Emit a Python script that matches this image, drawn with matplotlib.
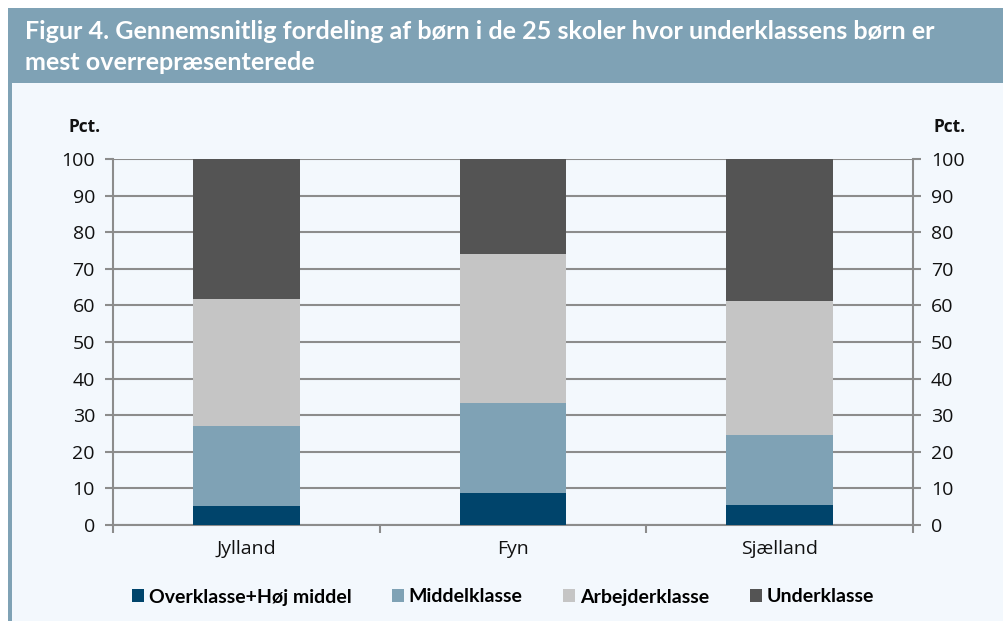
import matplotlib.pyplot as plt
from matplotlib.patches import Rectangle, Patch

# data (pct.)
regions = ['Jylland', 'Fyn', 'Sjælland']
overklasse = [5.3, 8.7, 5.5]
middelklasse = [21.7, 24.5, 19.1]
arbejderklasse = [34.7, 40.8, 36.5]
underklasse = [38.3, 26.0, 38.9]

series_names = ['Overklasse+Høj middel', 'Middelklasse', 'Arbejderklasse', 'Underklasse']
colors = ['#00446b', '#7fa2b5', '#c5c5c5', '#545454']

title = 'Figur 4. Gennemsnitlig fordeling af børn i de 25 skoler hvor underklassens børn er\nmest overrepræsenterede'

W, H = 1004, 621
fig = plt.figure(figsize=(W / 100, H / 100), dpi=100)
fig.patch.set_facecolor('white')

# =========================
# FRAME / TITLE BAND
# =========================

fig.patches.append(Rectangle((12 / W, 0), 1 - 12 / W, 1 - 83 / H,
                             transform=fig.transFigure, facecolor='#f3f8fd',
                             edgecolor='none', zorder=-5))
fig.patches.append(Rectangle((8 / W, 0), 4 / W, 1 - 83 / H,
                             transform=fig.transFigure, facecolor='#7fa2b5',
                             edgecolor='none', zorder=-5))
fig.patches.append(Rectangle((8 / W, 1 - 83 / H), 1 - 8 / W, 75 / H,
                             transform=fig.transFigure, facecolor='#7fa2b5',
                             edgecolor='none', zorder=-5))

fig.text(25 / W, 1 - 47 / H, title, color='white', fontsize=18.1,
         fontweight='bold', family='Lato', va='center', ha='left',
         linespacing=1.45)

# =========================
# AXES
# =========================

left, right, top, bottom = 113, 913, 159, 525
ax = fig.add_axes([left / W, 1 - bottom / H, (right - left) / W, (bottom - top) / H])
ax.set_facecolor('none')

x = list(range(len(regions)))
base = [0] * len(regions)
for vals, name, col in zip([overklasse, middelklasse, arbejderklasse, underklasse],
                           series_names, colors):
    ax.bar(x, vals, bottom=base, width=0.4, color=col, label=name, zorder=3)
    base = [b + v for b, v in zip(base, vals)]

ax.set_xlim(-0.5, 2.5)
ax.set_ylim(0, 100)
ax.set_yticks(range(0, 101, 10))
ax.set_xticks(x)
ax.set_xticklabels(regions)
ax.set_xticks([-0.5, 0.5, 1.5, 2.5], minor=True)

grid_col = '#8c8c8c'
ax.yaxis.grid(True, color=grid_col, linewidth=1.5, zorder=1)
ax.set_axisbelow(True)
ax.spines['top'].set_visible(False)
for side in ['left', 'right', 'bottom']:
    ax.spines[side].set_color(grid_col)
    ax.spines[side].set_linewidth(1.5)

ax.tick_params(axis='y', which='major', left=True, right=True, labelleft=True,
               labelright=True, length=6, width=1.5, color=grid_col,
               labelsize=14, pad=7)
ax.tick_params(axis='x', which='major', length=0, labelsize=14, pad=11)
ax.tick_params(axis='x', which='minor', length=6, width=1.5, color=grid_col)
for lbl in ax.get_yticklabels() + ax.get_xticklabels():
    lbl.set_family('Open Sans')
    lbl.set_color('#111111')

fig.text(85 / W, 1 - 127 / H, 'Pct.', fontsize=12.5, fontweight='bold',
         family='Open Sans', ha='center', va='center', color='#111111')
fig.text(950 / W, 1 - 127 / H, 'Pct.', fontsize=12.5, fontweight='bold',
         family='Open Sans', ha='center', va='center', color='#111111')

# =========================
# LEGEND
# =========================

handles = [Patch(facecolor=c, edgecolor='none') for c in colors]
fig.legend(handles, series_names, loc='center', bbox_to_anchor=(503 / W, 1 - 597 / H),
           ncol=4, frameon=False, handlelength=0.6, handleheight=0.6,
           handletextpad=0.25, columnspacing=2.1,
           prop={'family': 'Lato', 'weight': 'bold', 'size': 14})

fig.savefig('out.png', dpi=100, facecolor=fig.get_facecolor())
